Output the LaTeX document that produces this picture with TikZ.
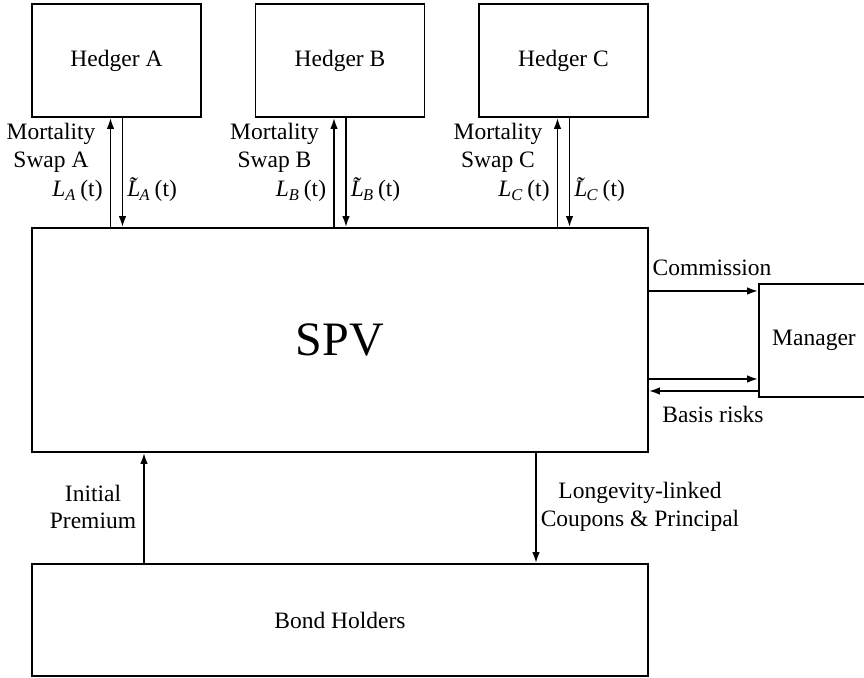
\documentclass[tikz,border=0pt]{standalone}
\usepackage{fontspec}
\setmainfont{Liberation Serif}
\usepackage{tikz}
\usetikzlibrary{arrows.meta}
\newcommand{\legflow}[1]{\textit{L}\textsubscript{\textit{#1}}\,(t)}
\newcommand{\legflowtil}[1]{\textit{L̃}\kern-0.43em\textsubscript{\textit{#1}}\,(t)}

\begin{document}
\begin{tikzpicture}[x=0.5pt,y=-0.5pt,line width=0.9pt,
  >={Latex[length=5.5pt,width=3.8pt]},
  every node/.style={font=\fontsize{11.75}{13.8}\selectfont},
  party/.style={draw,inner sep=0pt,minimum width=84.5pt,minimum height=56.5pt}]
\useasboundingbox (0,0) rectangle (864,678);
\node[party] (hedgerA) at (116.5,60.5) {Hedger A};
\node[party] (hedgerB) at (340,60.5) {Hedger B};
\node[party] (hedgerC) at (563.5,60.5) {Hedger C};
\node[draw,inner sep=0pt,minimum width=308pt,minimum height=112pt,font=\fontsize{24}{28}\selectfont] (spv) at (340,340) {SPV};
\node[party,minimum width=56pt] (manager) at (815,340.5) {\hspace*{-1pt}Manager};
\node[draw,inner sep=0pt,minimum width=308pt,minimum height=56pt] (bond) at (340,620) {Bond Holders};
% swaps with the hedgers
\foreach \h/\hx in {A/116.5,B/340,C/563.5}{
  \draw[->] ([xshift=-3pt]hedger\h.south |- spv.north) -- ([xshift=-3pt]hedger\h.south);
  \draw[->] ([xshift=3pt]hedger\h.south) -- ([xshift=3pt]hedger\h.south |- spv.north);
  \node[align=center] at (\hx-65.5,148) {Mortality\\Swap \h};
  \node[anchor=base east,inner sep=0pt] at (\hx-13,197) {\legflow{\h}};
  \node[anchor=base west,inner sep=0pt] at (\hx+10,197) {\legflowtil{\h}};
}
% manager
\draw[->] (spv.east |- 0,291) -- (manager.west |- 0,291);
\draw[->] (spv.east |- 0,379) -- (manager.west |- 0,379);
\draw[->] (manager.west |- 0,391) -- (spv.east |- 0,391);
\node[anchor=base] at (712,276) {Commission};
\node[anchor=base] at (713,423) {Basis risks};
% bond holders
\draw[->] (bond.north -| 144,0) -- (spv.south -| 144,0);
\draw[->] (spv.south -| 536,0) -- (bond.north -| 536,0);
\node[align=center] at (93,507) {Initial\\Premium};
\node[align=center] at (640,507) {Longevity-linked\\Coupons \& Principal};
\end{tikzpicture}
\end{document}
